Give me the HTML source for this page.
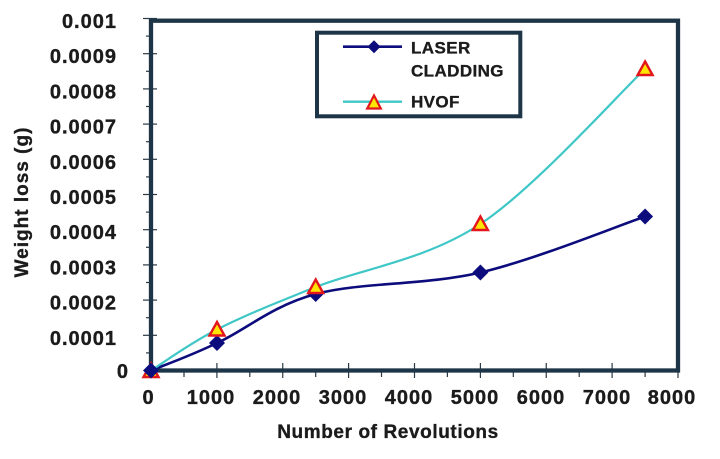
<!DOCTYPE html>
<html><head><meta charset="utf-8"><style>
html,body{margin:0;padding:0;background:#fff;}
svg{display:block;}
text{font-family:"Liberation Sans",sans-serif;font-weight:bold;fill:#1b1b1b;stroke:#1b1b1b;stroke-width:0.35;}
</style></head><body>
<svg width="720" height="459" viewBox="0 0 720 459" xmlns="http://www.w3.org/2000/svg">
<!-- ticks -->
<g stroke="#2a3a46" stroke-width="1.2">
<line x1="143" y1="18.5" x2="157" y2="18.5"/>
<line x1="143" y1="53.7" x2="157" y2="53.7"/>
<line x1="143" y1="88.9" x2="157" y2="88.9"/>
<line x1="143" y1="124.1" x2="157" y2="124.1"/>
<line x1="143" y1="159.3" x2="157" y2="159.3"/>
<line x1="143" y1="194.5" x2="157" y2="194.5"/>
<line x1="143" y1="229.7" x2="157" y2="229.7"/>
<line x1="143" y1="264.9" x2="157" y2="264.9"/>
<line x1="143" y1="300.1" x2="157" y2="300.1"/>
<line x1="143" y1="335.3" x2="157" y2="335.3"/>
<line x1="146" y1="36.1" x2="151" y2="36.1"/>
<line x1="146" y1="71.3" x2="151" y2="71.3"/>
<line x1="146" y1="106.5" x2="151" y2="106.5"/>
<line x1="146" y1="141.7" x2="151" y2="141.7"/>
<line x1="146" y1="176.9" x2="151" y2="176.9"/>
<line x1="146" y1="212.1" x2="151" y2="212.1"/>
<line x1="146" y1="247.3" x2="151" y2="247.3"/>
<line x1="146" y1="282.5" x2="151" y2="282.5"/>
<line x1="146" y1="317.7" x2="151" y2="317.7"/>
<line x1="146" y1="352.9" x2="151" y2="352.9"/>
<line x1="216.9" y1="363" x2="216.9" y2="378"/>
<line x1="282.75" y1="363" x2="282.75" y2="378"/>
<line x1="348.6" y1="363" x2="348.6" y2="378"/>
<line x1="414.5" y1="363" x2="414.5" y2="378"/>
<line x1="480.4" y1="363" x2="480.4" y2="378"/>
<line x1="546.25" y1="363" x2="546.25" y2="378"/>
<line x1="612.1" y1="363" x2="612.1" y2="378"/>
<line x1="678" y1="363" x2="678" y2="378"/>
<line x1="151" y1="363" x2="151" y2="378"/>
<line x1="184" y1="372" x2="184" y2="377"/>
<line x1="249.8" y1="372" x2="249.8" y2="377"/>
<line x1="315.7" y1="372" x2="315.7" y2="377"/>
<line x1="381.5" y1="372" x2="381.5" y2="377"/>
<line x1="447.4" y1="372" x2="447.4" y2="377"/>
<line x1="513.3" y1="372" x2="513.3" y2="377"/>
<line x1="579.2" y1="372" x2="579.2" y2="377"/>
<line x1="645.1" y1="372" x2="645.1" y2="377"/>
</g>
<!-- frame -->
<rect x="151" y="20.7" width="527" height="349.8" fill="none" stroke="#1d3547" stroke-width="4.3"/>

<!-- y labels -->
<g font-size="20" letter-spacing="1" text-anchor="end">
<text x="117" y="28">0.001</text>
<text x="117" y="63.2">0.0009</text>
<text x="117" y="98.4">0.0008</text>
<text x="117" y="133.6">0.0007</text>
<text x="117" y="168.8">0.0006</text>
<text x="117" y="204">0.0005</text>
<text x="117" y="239.2">0.0004</text>
<text x="117" y="274.4">0.0003</text>
<text x="117" y="309.6">0.0002</text>
<text x="117" y="344.8">0.0001</text>
<text x="129" y="378">0</text>
</g>
<!-- x labels -->
<g font-size="20" letter-spacing="1" text-anchor="middle">
<text x="148.5" y="404">0</text>
<text x="211" y="404">1000</text>
<text x="277" y="404">2000</text>
<text x="343" y="404">3000</text>
<text x="409" y="404">4000</text>
<text x="475" y="404">5000</text>
<text x="541" y="404">6000</text>
<text x="607" y="404">7000</text>
<text x="672" y="404">8000</text>
</g>
<!-- axis titles -->
<text x="388" y="438" font-size="19" letter-spacing="0.6" text-anchor="middle">Number of Revolutions</text>
<text transform="translate(28,202) rotate(-90)" font-size="19" letter-spacing="1" text-anchor="middle">Weight loss (g)</text>

<!-- series -->
<path d="M151,370.5 C162,366 189.55,356.25 217,343 C244.45,330.75 271.8,305.83 315.7,294 C359.6,282.17 425.5,285.42 480.4,272.5 C535.3,259.58 617.65,225.83 645.1,216.5" fill="none" stroke="#0c0c7c" stroke-width="2.6"/>
<path d="M151,370.5 C162,363.67 189.55,343.42 217,329.5 C244.45,315.58 271.8,304.58 315.7,287 C359.6,269.42 425.5,260.33 480.4,224 C535.3,187.67 617.65,94.83 645.1,69" fill="none" stroke="#3fc7c7" stroke-width="2.2"/>

<!-- laser markers -->
<g fill="#0c0c7c">
<polygon points="217,335 225,343 217,351 209,343"/>
<polygon points="315.7,286 323.7,294 315.7,302 307.7,294"/>
<polygon points="480.4,264.5 488.4,272.5 480.4,280.5 472.4,272.5"/>
<polygon points="645.1,208.5 653.1,216.5 645.1,224.5 637.1,216.5"/>
</g>
<!-- hvof markers -->
<g fill="#ffe600" stroke="#e2161c" stroke-width="2.4" stroke-linejoin="miter">
<polygon points="151,363.5 158.5,377 143.5,377"/>
<polygon points="217,322 224.5,335.5 209.5,335.5"/>
<polygon points="315.7,279.5 323.2,293 308.2,293"/>
<polygon points="480.4,216.5 487.9,230 472.9,230"/>
<polygon points="645.1,61.5 652.6,75 637.6,75"/>
</g>
<polygon points="151,362.5 159,370.5 151,378.5 143,370.5" fill="#0c0c7c"/>

<!-- legend -->
<rect x="317" y="32.7" width="203.3" height="83.6" fill="#fff" stroke="#1d3547" stroke-width="4"/>
<line x1="343" y1="46.7" x2="402" y2="46.7" stroke="#0c0c7c" stroke-width="2.6"/>
<polygon points="374,40.2 380.5,46.7 374,53.2 367.5,46.7" fill="#0c0c7c"/>
<line x1="343" y1="101.7" x2="402" y2="101.7" stroke="#3fc7c7" stroke-width="2.4"/>
<polygon points="374,95.5 380.8,108.5 367.2,108.5" fill="#ffe600" stroke="#e2161c" stroke-width="2.2"/>
<g font-size="17" letter-spacing="0.4">
<text x="411" y="53.3">LASER</text>
<text x="411" y="76.7">CLADDING</text>
<text x="411" y="107.7">HVOF</text>
</g>
</svg>
</body></html>
